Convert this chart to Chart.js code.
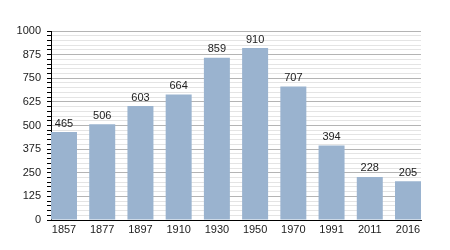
<!DOCTYPE html>
<html>
<head>
<meta charset="utf-8">
<script src="https://cdn.jsdelivr.net/npm/chart.js@4"></script>
<style>
  html, body { margin: 0; padding: 0; background: #fff; }
  #wrap { width: 450px; height: 250px; }
</style>
</head>
<body>
<div id="wrap"><canvas id="popChart" width="450" height="250"></canvas></div>
<script>
const years = ['1857', '1877', '1897', '1910', '1930', '1950', '1970', '1991', '2011', '2016'];
const population = [465, 506, 603, 664, 859, 910, 707, 394, 228, 205];
const yTicks = [0, 125, 250, 375, 500, 625, 750, 875, 1000];

const FONT = '"Liberation Sans", Arial, sans-serif';
const BAR_FRAC = 0.68;

// valeurs au-dessus des barres
const barLabels = {
    id: 'barLabels',
    afterDatasetsDraw(chart) {
        const ctx = chart.ctx;
        const meta = chart.getDatasetMeta(0);
        ctx.save();
        ctx.font = '11px ' + FONT;
        ctx.fillStyle = '#222';
        ctx.textAlign = 'center';
        ctx.textBaseline = 'bottom';
        meta.data.forEach((bar, i) => {
            ctx.fillText(String(population[i]), bar.x, bar.y - 3);
        });
        ctx.restore();
    }
};

new Chart(document.getElementById('popChart').getContext('2d'), {
    type: 'bar',
    data: {
        datasets: [{
            data: population.map((v, i) => ({ x: i, y: v })),
            backgroundColor: '#9ab3cf',
            borderWidth: 0,
            categoryPercentage: BAR_FRAC,
            barPercentage: 1
        }]
    },
    options: {
        responsive: false,
        animation: false,
        layout: { padding: { top: 31, right: 29, left: 0, bottom: 0 } },
        plugins: { legend: { display: false }, tooltip: { enabled: false } },
        scales: {
            x: {
                type: 'linear',
                min: -BAR_FRAC / 2,
                max: years.length - 1 + BAR_FRAC / 2,
                offset: false,
                grid: { display: false, drawTicks: false },
                border: { color: '#000', width: 1 },
                ticks: {
                    autoSkip: false,
                    maxRotation: 0,
                    color: '#222',
                    font: { size: 11, family: FONT },
                    padding: 3,
                    callback: v => years[v] || ''
                },
                afterBuildTicks(scale) { scale.ticks = years.map((_, i) => ({ value: i })); },
                afterFit(scale) { scale.height = 30; }
            },
            y: {
                min: 0, max: 1000,
                border: { color: '#000', width: 1 },
                grid: {
                    color: c => (c.tick && c.tick.value % 125 === 0) ? '#b4b4b4' : '#e4e4e4',
                    tickColor: '#000',
                    tickLength: 4,
                    drawTicks: true
                },
                ticks: {
                    stepSize: 25,
                    autoSkip: false,
                    color: '#222',
                    padding: 6,
                    font: { size: 11, family: FONT },
                    callback: v => yTicks.includes(v) ? String(v) : ''
                },
                afterFit(scale) { scale.width = 51; }
            }
        }
    },
    plugins: [barLabels]
});
</script>
</body>
</html>
